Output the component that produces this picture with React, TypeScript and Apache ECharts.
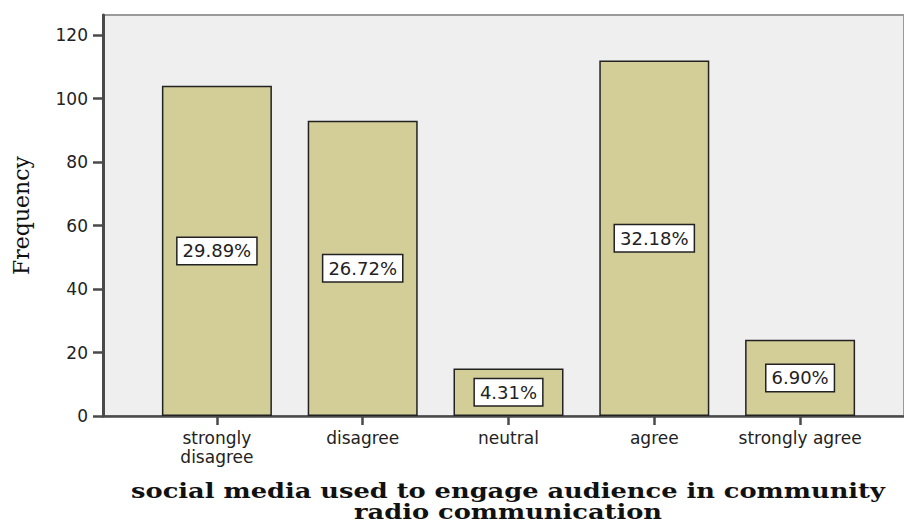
import React, { useEffect, useRef } from "react";
import * as echarts from "echarts";

const categories = ["strongly\ndisagree", "disagree", "neutral", "agree", "strongly agree"];
const frequencies = [104, 93, 15, 112, 24];
const percentLabels = ["29.89%", "26.72%", "4.31%", "32.18%", "6.90%"];
const yTicks = [0, 20, 40, 60, 80, 100, 120];
const yMax = 126.3;
const yTitle = "Frequency";
const xTitle = "social media used to engage audience in community\nradio communication";

export default function App() {
  const ref = useRef<HTMLDivElement>(null);
  useEffect(() => {
    if (!ref.current) return;
    const chart = echarts.init(ref.current, null, { renderer: "svg" });
    const sans = "DejaVu Sans";
    chart.setOption({
      animation: false,
      backgroundColor: "#ffffff",
      grid: [
        {
          left: 103,
          top: 15,
          right: -10,
          bottom: 107,
          show: true,
          backgroundColor: "#efefef",
          borderColor: "#9a9a9a",
          borderWidth: 2,
        },
        { left: 144, top: 15, right: 31, bottom: 107 },
      ],
      xAxis: [
        {
          gridIndex: 0,
          type: "value",
          min: 0,
          max: 1,
          axisLine: { show: true, onZero: false, lineStyle: { color: "#4a4a4a", width: 2.5 } },
          axisTick: { show: false },
          axisLabel: { show: false },
          splitLine: { show: false },
        },
        {
          gridIndex: 1,
          type: "category",
          data: categories,
          boundaryGap: true,
          axisLine: { show: false },
          axisTick: {
            show: true,
            alignWithLabel: true,
            length: 9,
            lineStyle: { color: "#4a4a4a", width: 2.5 },
          },
          axisLabel: {
            margin: 12,
            color: "#222",
            fontFamily: sans,
            fontSize: 17,
            lineHeight: 19,
            interval: 0,
          },
        },
      ],
      yAxis: [
        {
          gridIndex: 0,
          type: "value",
          min: 0,
          max: yMax,
          name: yTitle,
          nameLocation: "middle",
          nameGap: 71,
          nameTextStyle: { fontFamily: "DejaVu Serif", fontSize: 22, color: "#111" },
          axisLine: { show: true, lineStyle: { color: "#4a4a4a", width: 3 } },
          axisTick: {
            show: true,
            length: 10,
            customValues: yTicks,
            lineStyle: { color: "#4a4a4a", width: 2.5 },
          },
          axisLabel: {
            margin: 15,
            customValues: yTicks,
            color: "#222",
            fontFamily: sans,
            fontSize: 17,
          },
          splitLine: { show: false },
        },
        {
          gridIndex: 1,
          type: "value",
          min: 0,
          max: yMax,
          show: false,
          splitLine: { show: false },
        },
      ],
      graphic: [
        {
          type: "text",
          x: 508,
          y: 480,
          scaleX: 1.285,
          style: {
            text: xTitle,
            font: "bold 20px 'DejaVu Serif'",
            fill: "#111",
            textAlign: "center",
            textVerticalAlign: "top",
            lineHeight: 21,
          },
        },
      ],
      series: [
        {
          type: "bar",
          xAxisIndex: 1,
          yAxisIndex: 1,
          data: frequencies,
          barWidth: 110,
          itemStyle: { color: "#d3cd97", borderColor: "#222", borderWidth: 1.5 },
          label: {
            show: true,
            position: "inside",
            formatter: (p: any) => percentLabels[p.dataIndex],
            color: "#222",
            fontFamily: sans,
            fontSize: 18,
            backgroundColor: "#ffffff",
            borderColor: "#222",
            borderWidth: 1.5,
            padding: [4, 5, 4, 5],
          },
        },
      ],
    });
    return () => chart.dispose();
  }, []);
  return (
    <div
      ref={ref}
      style={{ position: "fixed", left: 0, top: 0, width: 904, height: 523 }}
    />
  );
}
